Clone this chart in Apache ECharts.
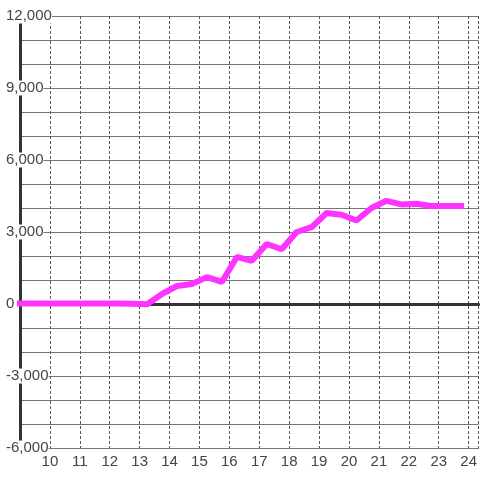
<!DOCTYPE html>
<html>
<head>
<meta charset="utf-8">
<script src="https://cdn.jsdelivr.net/npm/echarts@6/dist/echarts.min.js"></script>
<style>
  html, body { margin: 0; padding: 0; background: #fff; }
  #chart { width: 480px; height: 480px; }
</style>
</head>
<body>
<div id="chart"></div>
<script>
// half-hour points (hour of day) and the running value
var hours = [8.75, 9.25, 9.75, 10.25, 10.75, 11.25, 11.75, 12.25, 12.75, 13.25,
  13.75, 14.25, 14.75, 15.25, 15.75, 16.25, 16.75, 17.25, 17.75, 18.25,
  18.75, 19.25, 19.75, 20.25, 20.75, 21.25, 21.75, 22.25, 22.75, 23.25, 23.85]
var values = [20, 20, 20, 20, 20, 20, 20, 20, 10, -10,
  420, 750, 830, 1120, 920, 1960, 1800, 2500, 2280, 3000,
  3200, 3790, 3720, 3480, 4000, 4300, 4150, 4180, 4080, 4080, 4080]
var yTicks = [-6000, 12000, 3000] // min, max, labelled step

var chart = echarts.init(document.getElementById('chart'))
var font = '"Liberation Sans", Arial, sans-serif'

chart.setOption({
  backgroundColor: '#fff',
  animation: false,
  grid: {
    left: 20,
    right: 0,
    top: 16,
    bottom: 32
  },
  xAxis: [
    {
      type: 'value',
      min: 9,
      max: 9 + 460 / 30,
      interval: 1,
      axisLine: { onZero: false, lineStyle: { color: '#777', width: 1 } },
      axisTick: { show: false },
      axisLabel: {
        showMinLabel: false,
        showMaxLabel: false,
        color: '#444',
        fontSize: 15,
        fontFamily: font,
        margin: 6
      },
      splitLine: {
        show: true,
        lineStyle: { color: '#555', type: [3, 2], width: 1 }
      }
    },
    {
      // heavy zero line
      type: 'value',
      min: 9,
      max: 9 + 460 / 30,
      axisLine: { onZero: true, lineStyle: { color: '#333', width: 3 } },
      axisTick: { show: false },
      axisLabel: { show: false },
      splitLine: { show: false }
    }
  ],
  yAxis: {
    type: 'value',
    min: yTicks[0],
    max: yTicks[1],
    interval: yTicks[2],
    axisLine: { show: true, lineStyle: { color: '#333', width: 3 } },
    axisTick: { show: false },
    axisLabel: {
      color: '#444',
      fontSize: 15,
      fontFamily: font,
      align: 'left',
      margin: 14,
      backgroundColor: '#fff',
      formatter: function (v) { return v.toLocaleString('en-US') }
    },
    splitLine: { show: true, lineStyle: { color: '#777', width: 1 } },
    minorTick: { show: false, splitNumber: 3 },
    minorSplitLine: { show: true, lineStyle: { color: '#777', width: 1 } }
  },
  series: [{
    type: 'line',
    xAxisIndex: 0,
    data: hours.map(function (h, i) { return [h, values[i]] }),
    showSymbol: false,
    symbol: 'none',
    clip: true,
    lineStyle: { color: '#ff33ff', width: 6 },
    z: 5
  }]
})
</script>
</body>
</html>
